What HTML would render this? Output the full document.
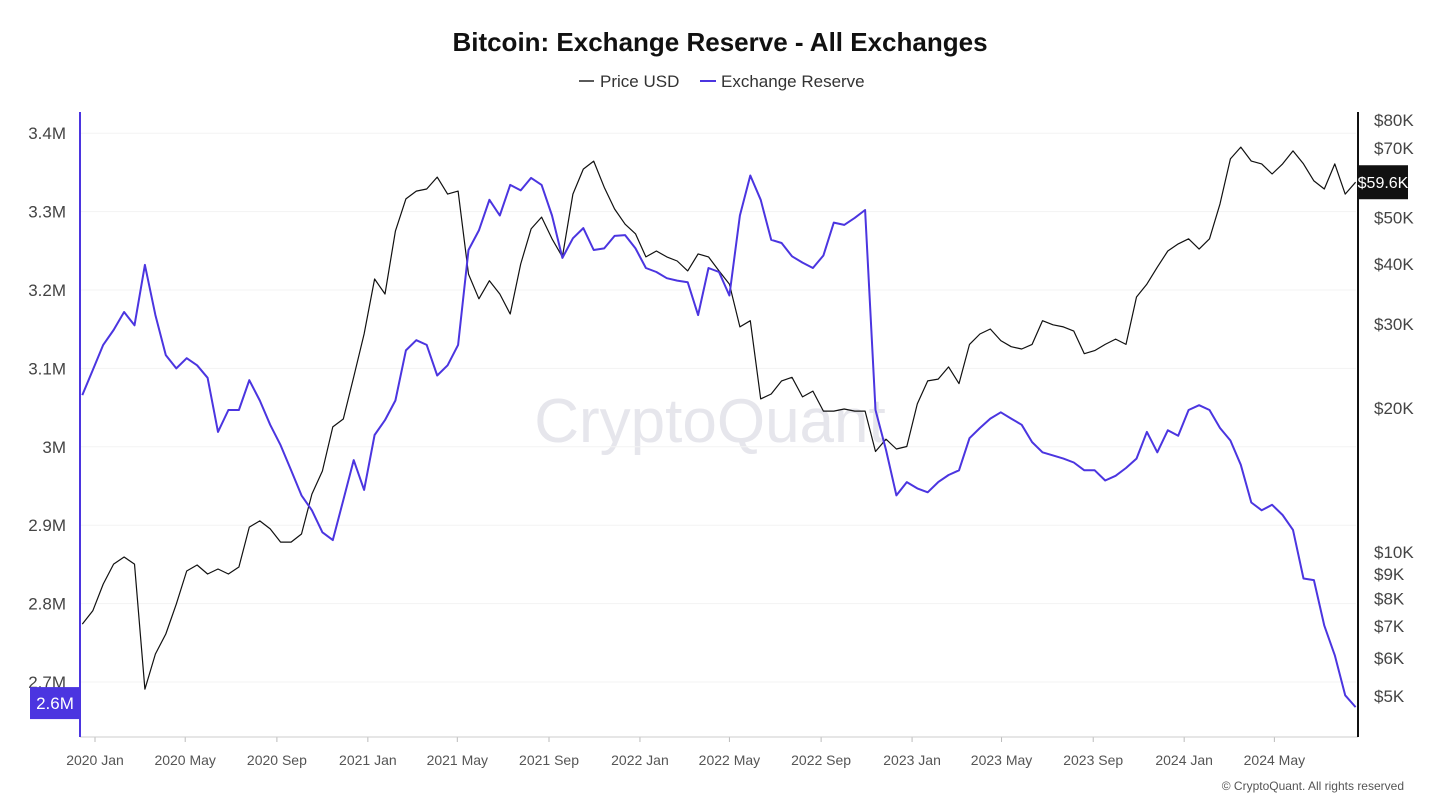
<!DOCTYPE html>
<html><head><meta charset="utf-8">
<style>
body{margin:0;background:#fff;font-family:"Liberation Sans",sans-serif;}
#wrap{position:relative;width:1440px;height:810px;overflow:hidden;}
svg text{font-family:"Liberation Sans",sans-serif;}
</style></head>
<body>
<div id="wrap">
<svg id="chart" width="1440" height="810">
  <text x="720" y="51" text-anchor="middle" font-size="26" font-weight="bold" fill="#111">Bitcoin: Exchange Reserve - All Exchanges</text>
  <g>
    <g>
      <line x1="579" y1="81" x2="594" y2="81" stroke="#222" stroke-width="1.5"/>
      <text x="600" y="87" font-size="17" fill="#333">Price USD</text>
    </g>
    <g>
      <line x1="700" y1="81" x2="716" y2="81" stroke="#4b35e0" stroke-width="2"/>
      <text x="721" y="87" font-size="17" fill="#333">Exchange Reserve</text>
    </g>
  </g>
  <text x="710" y="442" text-anchor="middle" font-size="62" fill="#e6e6ec">CryptoQuant</text>
  <g id="grid"></g>
  <g id="axes"></g>
  <g id="series"></g>
  <text x="1404" y="790" text-anchor="end" font-size="12" fill="#555">© CryptoQuant. All rights reserved</text>
</svg>
</div>
<script>
const startDate = '2019-12-15';
const stepDays = 14;
const reserveM = [3.066,3.098,3.130,3.149,3.172,3.155,3.232,3.168,3.117,3.100,3.113,3.104,3.088,3.019,3.047,3.047,3.085,3.059,3.028,3.002,2.970,2.938,2.919,2.891,2.881,2.932,2.983,2.945,3.015,3.034,3.059,3.123,3.136,3.130,3.091,3.104,3.130,3.251,3.276,3.315,3.295,3.334,3.327,3.343,3.334,3.295,3.241,3.266,3.279,3.251,3.253,3.269,3.270,3.253,3.228,3.223,3.215,3.212,3.210,3.168,3.228,3.223,3.193,3.295,3.346,3.315,3.264,3.260,3.243,3.235,3.228,3.244,3.286,3.283,3.292,3.302,3.047,2.996,2.938,2.955,2.947,2.942,2.955,2.964,2.970,3.011,3.024,3.036,3.044,3.036,3.028,3.006,2.993,2.989,2.985,2.980,2.970,2.970,2.957,2.963,2.973,2.985,3.019,2.993,3.021,3.014,3.047,3.053,3.047,3.024,3.008,2.977,2.929,2.919,2.926,2.913,2.894,2.832,2.830,2.772,2.734,2.683,2.668];
const priceK = [7.10,7.57,8.61,9.48,9.81,9.48,5.19,6.15,6.77,7.82,9.17,9.44,9.04,9.26,9.04,9.35,11.33,11.67,11.23,10.54,10.54,10.96,13.28,14.84,18.35,19.06,23.33,28.70,37.4,34.8,47.1,55.0,57.1,57.7,61.1,56.3,57.1,38.3,34.0,37.1,34.8,31.6,40.2,47.6,50.4,45.4,41.6,56.3,63.5,66.0,58.2,52.4,48.7,46.5,41.6,42.8,41.6,40.8,38.9,42.2,41.6,38.9,36.5,29.7,30.6,21.0,21.5,22.9,23.3,21.2,21.8,19.8,19.8,20.0,19.8,19.8,16.3,17.3,16.5,16.7,20.5,22.9,23.1,24.5,22.6,27.3,28.7,29.4,27.8,27.0,26.7,27.3,30.6,30.0,29.7,29.1,26.1,26.5,27.3,28.0,27.3,34.3,36.5,39.6,42.8,44.3,45.4,43.2,45.4,53.7,66.7,70.6,66.0,65.1,62.0,65.1,69.3,65.1,60.0,57.7,65.1,56.3,59.6];
const leftTicks = [2.7,2.8,2.9,3.0,3.1,3.2,3.3,3.4];
const leftTickLabels = ['2.7M','2.8M','2.9M','3M','3.1M','3.2M','3.3M','3.4M'];
const rightTicks = [5,6,7,8,9,10,20,30,40,50,70,80];
const rightTickLabels = ['$5K','$6K','$7K','$8K','$9K','$10K','$20K','$30K','$40K','$50K','$70K','$80K'];
const xTickDates = ['2020-01-01','2020-05-01','2020-09-01','2021-01-01','2021-05-01','2021-09-01','2022-01-01','2022-05-01','2022-09-01','2023-01-01','2023-05-01','2023-09-01','2024-01-01','2024-05-01'];
const xTickLabels = ['2020 Jan','2020 May','2020 Sep','2021 Jan','2021 May','2021 Sep','2022 Jan','2022 May','2022 Sep','2023 Jan','2023 May','2023 Sep','2024 Jan','2024 May'];

const NS='http://www.w3.org/2000/svg';
const DAY=86400000;
const t0=Date.parse('2020-01-01');
const sx=d=>95+(Date.parse(d)-t0)/DAY*0.7455;
const sxDay=ms=>95+(ms-t0)/DAY*0.7455;
const yL=v=>682-(v-2.7)*784;
const yR=v=>553-207.7*Math.log(v/10);
const dates=reserveM.map((_,i)=>Date.parse(startDate)+i*stepDays*DAY);
function mk(tag,attrs,parent){const e=document.createElementNS(NS,tag);for(const k in attrs)e.setAttribute(k,attrs[k]);parent.appendChild(e);return e;}
const grid=document.getElementById('grid'),axes=document.getElementById('axes'),series=document.getElementById('series');

leftTicks.forEach((v,i)=>{
  const g=mk('line',{x1:80,x2:1356,y1:yL(v),y2:yL(v),stroke:'#f3f3f3','stroke-width':1},grid);
  
  
  const t=mk('text',{x:66,y:yL(v)+6,'text-anchor':'end','font-size':17,fill:'#444'},axes);
  t.textContent=leftTickLabels[i];
  
  
});
rightTicks.forEach((v,i)=>{
  const t=mk('text',{x:1374,y:yR(v)+5,'font-size':17,fill:'#444'},axes);
  t.textContent=rightTickLabels[i];
  
  
});
xTickDates.forEach((d,i)=>{
  const x=sx(d);
  const l=mk('line',{x1:x,x2:x,y1:737,y2:742,stroke:'#bbb'},axes);
  
  
  const t=mk('text',{x:x,y:765,'text-anchor':'middle','font-size':14,fill:'#555'},axes);
  t.textContent=xTickLabels[i];
  
  
});
let a=mk('line',{x1:80,x2:1358,y1:737,y2:737,stroke:'#ccc'},axes);


a=mk('line',{x1:80,x2:80,y1:112,y2:737,stroke:'#4b35e0','stroke-width':2},axes);


a=mk('line',{x1:1358,x2:1358,y1:112,y2:737,stroke:'#111','stroke-width':2},axes);



const pPrice=priceK.map((v,i)=>(i?'L':'M')+sxDay(dates[i]).toFixed(1)+','+yR(v).toFixed(1)).join('');
let p=mk('path',{d:pPrice,fill:'none',stroke:'#111','stroke-width':1.2,'stroke-linejoin':'round'},series);


const pRes=reserveM.map((v,i)=>(i?'L':'M')+sxDay(dates[i]).toFixed(1)+','+yL(v).toFixed(1)).join('');
p=mk('path',{d:pRes,fill:'none',stroke:'#4b35e0','stroke-width':2,'stroke-linejoin':'round'},series);



const lastP=priceK[priceK.length-1], lastR=reserveM[reserveM.length-1];
let b=mk('rect',{x:1358,y:yR(lastP)-17,width:50,height:34,fill:'#111'},axes);


let bt=mk('text',{x:1383,y:yR(lastP)+6,'text-anchor':'middle','font-size':16,fill:'#fff'},axes);
bt.textContent='$'+lastP.toFixed(1)+'K';


b=mk('rect',{x:30,y:yL(lastR)-20,width:50,height:32,fill:'#4b35e0'},axes);


bt=mk('text',{x:55,y:yL(lastR)+2,'text-anchor':'middle','font-size':17,fill:'#fff'},axes);
bt.textContent=(Math.floor(lastR*10)/10).toFixed(1)+'M';


</script>
</body></html>
